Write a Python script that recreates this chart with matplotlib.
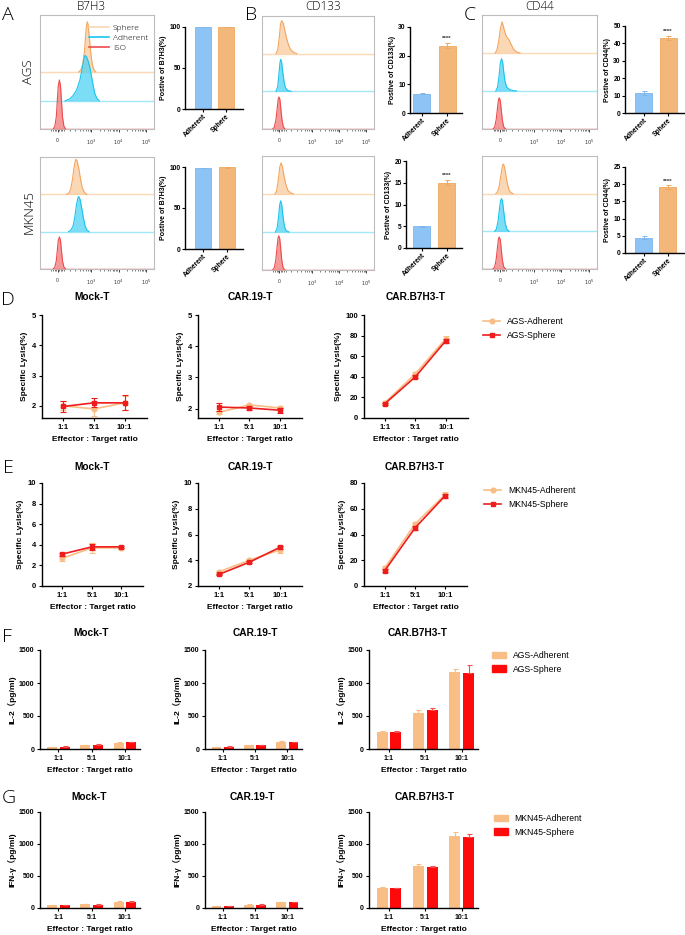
import numpy as np
import matplotlib
matplotlib.use('Agg')
import matplotlib.pyplot as plt
from matplotlib.lines import Line2D
from matplotlib.patches import Patch

plt.rcParams['font.family'] = ['Liberation Sans', 'DejaVu Sans', 'Noto Sans CJK SC']

# ------------------------------------------------------------------ data
groups = ['Adherent', 'Sphere']
ratios = ['1:1', '5:1', '10:1']
hist_ticklabels = ['0', '$10^3$', '$10^4$', '$10^5$']

# flow histograms: (x position on display axis 0-1, relative height)
AGS_B7H3_ISO = ([0.115, 0.13, 0.143, 0.152, 0.16, 0.17, 0.18, 0.188, 0.197, 0.21, 0.225],
                [0, 0.07, 0.32, 0.75, 1.13, 1.29, 1.13, 0.75, 0.32, 0.07, 0])
AGS_B7H3_ADH = ([0.22, 0.26, 0.29, 0.32, 0.35, 0.37, 0.385, 0.395, 0.41, 0.425, 0.44, 0.46, 0.48, 0.5, 0.52],
                [0, 0.05, 0.14, 0.28, 0.55, 0.85, 1.1, 1.2, 1.15, 1.02, 0.85, 0.5, 0.2, 0.06, 0])
AGS_B7H3_SPH = ([0.34, 0.36, 0.375, 0.39, 0.4, 0.408, 0.415, 0.422, 0.432, 0.445, 0.46, 0.475, 0.49],
                [0, 0.06, 0.2, 0.55, 0.95, 1.22, 1.32, 1.25, 0.95, 0.5, 0.18, 0.05, 0])
AGS_CD133_ISO = ([0.095, 0.11, 0.125, 0.137, 0.145, 0.152, 0.16, 0.168, 0.178, 0.19, 0.205],
                 [0, 0.05, 0.25, 0.58, 0.8, 0.85, 0.78, 0.55, 0.25, 0.06, 0])
AGS_CD133_ADH = ([0.125, 0.14, 0.15, 0.16, 0.167, 0.175, 0.185, 0.197, 0.21, 0.23, 0.26],
                 [0, 0.12, 0.42, 0.75, 0.85, 0.78, 0.52, 0.25, 0.09, 0.02, 0])
AGS_CD133_SPH = ([0.125, 0.14, 0.155, 0.165, 0.176, 0.19, 0.205, 0.22, 0.24, 0.26, 0.285, 0.31],
                 [0, 0.1, 0.45, 0.78, 0.88, 0.8, 0.6, 0.4, 0.2, 0.09, 0.03, 0])
AGS_CD44_ISO = ([0.095, 0.11, 0.123, 0.135, 0.143, 0.15, 0.158, 0.166, 0.176, 0.188, 0.205],
                [0, 0.05, 0.24, 0.56, 0.77, 0.82, 0.76, 0.55, 0.25, 0.06, 0])
AGS_CD44_ADH = ([0.12, 0.135, 0.148, 0.16, 0.17, 0.18, 0.19, 0.2, 0.215, 0.24, 0.27, 0.3],
                [0, 0.1, 0.38, 0.75, 0.85, 0.75, 0.48, 0.25, 0.1, 0.04, 0.01, 0])
AGS_CD44_SPH = ([0.115, 0.13, 0.145, 0.16, 0.175, 0.19, 0.205, 0.22, 0.235, 0.25, 0.27, 0.29, 0.31, 0.33],
                [0, 0.08, 0.3, 0.65, 0.82, 0.65, 0.48, 0.4, 0.35, 0.25, 0.12, 0.05, 0.015, 0])
MKN_B7H3_ISO = ([0.115, 0.13, 0.143, 0.152, 0.16, 0.17, 0.18, 0.188, 0.197, 0.21, 0.225],
                [0, 0.05, 0.22, 0.5, 0.76, 0.86, 0.76, 0.5, 0.22, 0.05, 0])
MKN_B7H3_ADH = ([0.25, 0.27, 0.29, 0.305, 0.32, 0.332, 0.34, 0.35, 0.365, 0.38, 0.395, 0.41, 0.43],
                [0, 0.04, 0.15, 0.38, 0.72, 0.9, 0.94, 0.88, 0.65, 0.38, 0.16, 0.05, 0])
MKN_B7H3_SPH = ([0.235, 0.255, 0.27, 0.285, 0.3, 0.31, 0.316, 0.325, 0.34, 0.355, 0.37, 0.39, 0.41],
                [0, 0.04, 0.15, 0.4, 0.75, 0.9, 0.94, 0.9, 0.7, 0.42, 0.18, 0.05, 0])
MKN_CD133_ISO = ([0.095, 0.11, 0.123, 0.135, 0.143, 0.15, 0.158, 0.166, 0.176, 0.188, 0.205],
                 [0, 0.06, 0.26, 0.62, 0.84, 0.9, 0.83, 0.6, 0.27, 0.06, 0])
MKN_CD133_ADH = ([0.12, 0.135, 0.148, 0.158, 0.167, 0.176, 0.187, 0.2, 0.215, 0.24],
                 [0, 0.1, 0.4, 0.72, 0.82, 0.72, 0.42, 0.15, 0.04, 0])
MKN_CD133_SPH = ([0.115, 0.13, 0.145, 0.158, 0.17, 0.182, 0.195, 0.21, 0.23, 0.255, 0.28],
                 [0, 0.07, 0.35, 0.7, 0.82, 0.72, 0.5, 0.28, 0.1, 0.03, 0])
MKN_CD44_ISO = ([0.095, 0.11, 0.123, 0.135, 0.143, 0.15, 0.158, 0.166, 0.176, 0.188, 0.205],
                [0, 0.05, 0.25, 0.58, 0.8, 0.85, 0.79, 0.57, 0.26, 0.06, 0])
MKN_CD44_ADH = ([0.11, 0.125, 0.14, 0.152, 0.162, 0.17, 0.178, 0.188, 0.2, 0.215, 0.235],
                [0, 0.06, 0.28, 0.6, 0.82, 0.87, 0.8, 0.55, 0.25, 0.06, 0])
MKN_CD44_SPH = ([0.12, 0.135, 0.15, 0.165, 0.177, 0.185, 0.195, 0.207, 0.22, 0.235, 0.25, 0.27],
                [0, 0.05, 0.2, 0.5, 0.73, 0.79, 0.72, 0.5, 0.27, 0.1, 0.03, 0])

# positive percentages
b7h3_ags, b7h3_ags_err = [99.6, 99.8], [0.2, 0.1]
b7h3_mkn, b7h3_mkn_err = [99.0, 99.5], [0.3, 0.2]
cd133_ags, cd133_ags_err = [6.7, 23.5], [0.2, 1.0]
cd133_mkn, cd133_mkn_err = [5.0, 15.0], [0.15, 0.6]
cd44_ags, cd44_ags_err = [11.5, 43.0], [1.2, 1.2]
cd44_mkn, cd44_mkn_err = [4.5, 19.2], [0.4, 0.5]

# specific lysis (%)
d_mock_adh, d_mock_adh_err = [2.0, 1.9, 2.1], [0.15, 0.25, 0.22]
d_mock_sph, d_mock_sph_err = [1.98, 2.1, 2.1], [0.18, 0.15, 0.25]
d_c19_adh, d_c19_adh_err = [1.88, 2.12, 2.02], [0.05, 0.04, 0.05]
d_c19_sph, d_c19_sph_err = [2.05, 2.02, 1.95], [0.12, 0.05, 0.08]
d_b7_adh, d_b7_adh_err = [15, 43, 77], [1.5, 2, 3]
d_b7_sph, d_b7_sph_err = [14, 40, 75], [1, 1.5, 2]
e_mock_adh, e_mock_adh_err = [2.7, 3.7, 3.7], [0.3, 0.5, 0.15]
e_mock_sph, e_mock_sph_err = [3.1, 3.8, 3.8], [0.15, 0.3, 0.1]
e_c19_adh, e_c19_adh_err = [3.1, 4.0, 4.8], [0.1, 0.1, 0.2]
e_c19_sph, e_c19_sph_err = [2.9, 3.85, 5.0], [0.05, 0.08, 0.1]
e_b7_adh, e_b7_adh_err = [14, 48, 71], [1.5, 2, 2]
e_b7_sph, e_b7_sph_err = [12, 45, 70], [1, 1.5, 1.5]

# cytokines (pg/ml)
f_mock_adh, f_mock_adh_err = [30, 60, 95], [5, 8, 8]
f_mock_sph, f_mock_sph_err = [35, 65, 105], [4, 6, 8]
f_c19_adh, f_c19_adh_err = [30, 55, 110], [4, 6, 8]
f_c19_sph, f_c19_sph_err = [35, 60, 105], [4, 6, 6]
f_b7_adh, f_b7_adh_err = [265, 540, 1160], [15, 45, 50]
f_b7_sph, f_b7_sph_err = [255, 595, 1150], [15, 25, 130]
g_mock_adh, g_mock_adh_err = [40, 55, 100], [5, 6, 8]
g_mock_sph, g_mock_sph_err = [40, 50, 95], [4, 5, 8]
g_c19_adh, g_c19_adh_err = [30, 50, 90], [4, 5, 6]
g_c19_sph, g_c19_sph_err = [35, 50, 90], [4, 5, 6]
g_b7_adh, g_b7_adh_err = [320, 655, 1130], [10, 25, 60]
g_b7_sph, g_b7_sph_err = [305, 635, 1105], [10, 25, 55]

# ------------------------------------------------------------------ helpers
W, H = 685, 935
fig = plt.figure(figsize=(W / 100, H / 100), dpi=100)


def px_axes(x0, y0, x1, y1):
    return fig.add_axes([x0 / W, 1 - y1 / H, (x1 - x0) / W, (y1 - y0) / H])


def ftext(x, y, s, **kw):
    kw.setdefault('ha', 'center')
    kw.setdefault('va', 'center')
    fig.text(x / W, 1 - y / H, s, **kw)


LIGHT = dict(family=['Open Sans', 'DejaVu Sans'], fontweight='light')

SPH_LINE, SPH_FILL, SPH_BASE = '#F4A55E', '#F9CB9C', '#FBD8B6'
ADH_LINE, ADH_FILL, ADH_BASE = '#19C3EE', '#4FD3F4', '#A3E8F8'
ISO_LINE, ISO_FILL = '#EE4B4B', '#F27878'

major_pos = [0.155, 0.45, 0.69, 0.93]
minor_pos = [0.10, 0.115, 0.13, 0.14, 0.17, 0.18, 0.195, 0.21, 0.26, 0.31, 0.35, 0.38, 0.40, 0.42, 0.435]
for d0 in (0.45, 0.69):
    for k in range(2, 10):
        minor_pos.append(d0 + np.log10(k) * 0.24)


def hist_panel(box, curves, baselines, legend=False):
    ax = px_axes(*box)
    ax.set_xlim(0, 1)
    ax.set_ylim(0, 3)
    cols = [(ISO_LINE, ISO_FILL, ISO_LINE), (ADH_LINE, ADH_FILL, ADH_BASE), (SPH_LINE, SPH_FILL, SPH_BASE)]
    order = [2, 1, 0]
    for i in order:
        (x, h), base = curves[i], baselines[i]
        lc, fc, bc = cols[i]
        ax.axhline(base, color=bc, lw=1.0, zorder=1)
        y = np.array(h) + base
        ax.fill_between(x, base, y, color=fc, alpha=0.75, lw=0, zorder=2 + (2 - i))
        ax.plot(x, y, color=lc, lw=0.8, zorder=3 + (2 - i))
    for s in ax.spines.values():
        s.set_color('#BDBDBD')
        s.set_linewidth(0.8)
    ax.set_yticks([])
    ax.set_xticks(major_pos)
    ax.set_xticklabels(hist_ticklabels, fontsize=3.6, color='#333333')
    ax.set_xticks(minor_pos, minor=True)
    ax.tick_params(axis='x', which='major', length=2.5, width=0.6, pad=4, color='#222222')
    ax.tick_params(axis='x', which='minor', length=1.5, width=0.5, color='#444444')
    if legend:
        handles = [Line2D([], [], color=SPH_BASE, lw=1.2), Line2D([], [], color=ADH_LINE, lw=1.2),
                   Line2D([], [], color=ISO_LINE, lw=1.2)]
        ax.legend(handles, ['Sphere', 'Adherent', 'ISO'], loc='upper right', frameon=False,
                  prop=dict(family=['Open Sans', 'DejaVu Sans'], size=6, weight='light'),
                  handlelength=2.4, handletextpad=0.5, labelspacing=0.25,
                  borderaxespad=0.3, bbox_to_anchor=(1.0, 0.97))
    return ax


BAR_ADH, BAR_ADH_E = '#8EC3F6', '#7DB6EE'
BAR_SPH, BAR_SPH_E = '#F4B77A', '#EFA862'


def prism_style(ax, fs=5.5):
    for s in ['top', 'right']:
        ax.spines[s].set_visible(False)
    for s in ['left', 'bottom']:
        ax.spines[s].set_linewidth(1.0)
    ax.tick_params(direction='out', length=2.5, width=0.8, labelsize=fs, pad=1.5)
    for lab in ax.get_xticklabels() + ax.get_yticklabels():
        lab.set_fontweight('bold')


def pos_bar(box, centers_px, width_px, vals, errs, ylim, yticks, ylabel, sig=None):
    ax = px_axes(*box)
    x0, y0, x1, y1 = box
    c0, c1 = centers_px
    unit = c1 - c0
    ax.set_xlim((x0 - c0) / unit, (x1 - c0) / unit)
    xs = np.arange(2)
    ax.bar(xs, vals, width=width_px / unit, color=[BAR_ADH, BAR_SPH],
           edgecolor=[BAR_ADH_E, BAR_SPH_E], lw=0.6)
    for i in range(2):
        ax.errorbar(xs[i], vals[i], yerr=errs[i], color=[BAR_ADH_E, BAR_SPH_E][i],
                    capsize=1.8, elinewidth=0.7, capthick=0.7, fmt='none')
    ax.set_ylim(*ylim)
    ax.set_yticks(yticks)
    ax.set_xticks(xs)
    ax.set_xticklabels(groups, rotation=45, ha='right', rotation_mode='anchor')
    ax.set_ylabel(ylabel, fontsize=5, fontweight='bold', labelpad=2)
    prism_style(ax, fs=4.8)
    ax.tick_params(length=2, pad=1)
    if sig:
        ax.text(1, vals[1] + errs[1] + (ylim[1] - ylim[0]) * 0.02, sig, ha='center', va='bottom',
                fontsize=4.5, fontweight='bold', color='#333333')
    return ax


C_ADH = '#F8BE86'
C_SPH = '#EE1C1C'


def line_panel(box, adh, adh_err, sph, sph_err, ylim, yticks, ylabel=True):
    ax = px_axes(*box)
    x = np.arange(3)
    ax.errorbar(x, adh, yerr=adh_err, color=C_ADH, marker='o', ms=3.4, lw=1.2,
                capsize=2, elinewidth=0.8, capthick=0.8, zorder=3)
    ax.errorbar(x, sph, yerr=sph_err, color=C_SPH, marker='s', ms=3.0, lw=1.2,
                capsize=2, elinewidth=0.8, capthick=0.8, zorder=4)
    ax.set_xlim(-0.69, 2.73)
    ax.set_ylim(*ylim)
    ax.set_yticks(yticks)
    ax.set_xticks(x)
    ax.set_xticklabels(ratios)
    ax.set_xlabel('Effector : Target ratio', fontsize=6, fontweight='bold', labelpad=4)
    ax.set_ylabel('Specific Lysis(%)', fontsize=6, fontweight='bold', labelpad=3)
    prism_style(ax)
    return ax


def cyto_panel(box, adh, adh_err, sph, sph_err, ylabel):
    ax = px_axes(*box)
    x = np.arange(3)
    w, off = 0.3, 0.19
    ax.bar(x - off, adh, width=w, color=C_ADH, lw=0)
    ax.bar(x + off, sph, width=w, color='#FF0A0A', lw=0)
    ax.errorbar(x - off, adh, yerr=[np.zeros(3), adh_err], fmt='none', ecolor=C_ADH,
                capsize=1.8, elinewidth=0.8, capthick=0.8)
    ax.errorbar(x + off, sph, yerr=[np.zeros(3), sph_err], fmt='none', ecolor='#F25050',
                capsize=1.8, elinewidth=0.8, capthick=0.8)
    ax.set_xlim(-0.55, 2.45)
    ax.set_ylim(0, 1500)
    ax.set_yticks([0, 500, 1000, 1500])
    ax.set_xticks(x)
    ax.set_xticklabels(ratios)
    ax.set_xlabel('Effector : Target ratio', fontsize=6, fontweight='bold', labelpad=4)
    ax.set_ylabel(ylabel, fontsize=6, fontweight='bold', labelpad=2)
    prism_style(ax, fs=5)
    return ax


# ------------------------------------------------------------------ top: flow
ftext(8, 15, 'A', fontsize=14, **LIGHT)
ftext(251, 15, 'B', fontsize=14, **LIGHT)
ftext(470, 15, 'C', fontsize=14, **LIGHT)
ftext(91, 7, 'B7H3', fontsize=8.5, **LIGHT)
ftext(323, 6, 'CD133', fontsize=8.5, **LIGHT)
ftext(540, 6, 'CD44', fontsize=8.5, **LIGHT)
ftext(29, 72, 'AGS', fontsize=9.5, rotation=90, **LIGHT)
ftext(29, 212, 'MKN45', fontsize=9.5, rotation=90, **LIGHT)

hist_panel((40, 15, 154, 129), [AGS_B7H3_ISO, AGS_B7H3_ADH, AGS_B7H3_SPH], [0, 0.74, 1.5], legend=True)
hist_panel((262, 16, 374, 129), [AGS_CD133_ISO, AGS_CD133_ADH, AGS_CD133_SPH], [0, 1, 2])
hist_panel((482, 15, 597, 129), [AGS_CD44_ISO, AGS_CD44_ADH, AGS_CD44_SPH], [0, 1, 2])
hist_panel((40, 157, 154, 269), [MKN_B7H3_ISO, MKN_B7H3_ADH, MKN_B7H3_SPH], [0, 1, 2])
hist_panel((262, 156, 374, 270), [MKN_CD133_ISO, MKN_CD133_ADH, MKN_CD133_SPH], [0, 1, 2])
hist_panel((482, 156, 597, 269), [MKN_CD44_ISO, MKN_CD44_ADH, MKN_CD44_SPH], [0, 1, 2])

pos_bar((185, 27, 243, 109), (203, 226), 16, b7h3_ags, b7h3_ags_err, (0, 100), [0, 50, 100], 'Postive of B7H3(%)')
pos_bar((185, 167, 243, 249), (203, 226.5), 16, b7h3_mkn, b7h3_mkn_err, (0, 100), [0, 50, 100], 'Postive of B7H3(%)')
pos_bar((410, 27, 462, 113), (421.5, 447), 17, cd133_ags, cd133_ags_err, (0, 30), [0, 10, 20, 30], 'Postive of CD133(%)', '****')
pos_bar((406, 161, 462, 248), (421.5, 446.5), 17, cd133_mkn, cd133_mkn_err, (0, 20), [0, 5, 10, 15, 20], 'Postive of CD133(%)', '****')
pos_bar((625, 26, 685, 113), (643.5, 668), 17, cd44_ags, cd44_ags_err, (0, 50), [0, 10, 20, 30, 40, 50], 'Postive of CD44(%)', '****')
pos_bar((625, 167, 685, 253), (643.5, 667.5), 17, cd44_mkn, cd44_mkn_err, (0, 25), [0, 5, 10, 15, 20, 25], 'Postive of CD44(%)', '****')

# ------------------------------------------------------------------ D / E: lysis
TITLE = dict(fontsize=7.3, fontweight='bold')
ftext(8, 300, 'D', fontsize=14, **LIGHT)
ftext(92, 297, 'Mock-T', **TITLE)
ftext(250, 297, 'CAR.19-T', **TITLE)
ftext(416, 297, 'CAR.B7H3-T', **TITLE)
line_panel((42, 315, 147, 418), d_mock_adh, d_mock_adh_err, d_mock_sph, d_mock_sph_err, (1.6, 5), [2, 3, 4, 5])
line_panel((198, 315, 302, 418), d_c19_adh, d_c19_adh_err, d_c19_sph, d_c19_sph_err, (1.7, 5), [2, 3, 4, 5])
axd = line_panel((364, 315, 468, 418), d_b7_adh, d_b7_adh_err, d_b7_sph, d_b7_sph_err, (0, 100), [0, 20, 40, 60, 80, 100])

ftext(8, 468, 'E', fontsize=14, **LIGHT)
ftext(92, 467, 'Mock-T', **TITLE)
ftext(250, 467, 'CAR.19-T', **TITLE)
ftext(415, 467, 'CAR.B7H3-T', **TITLE)
line_panel((42, 483, 143, 586), e_mock_adh, e_mock_adh_err, e_mock_sph, e_mock_sph_err, (0, 10), [0, 2, 4, 6, 8, 10])
line_panel((198, 483, 302, 586), e_c19_adh, e_c19_adh_err, e_c19_sph, e_c19_sph_err, (2, 10), [2, 4, 6, 8, 10])
axe = line_panel((364, 483, 467, 586), e_b7_adh, e_b7_adh_err, e_b7_sph, e_b7_sph_err, (0, 80), [0, 20, 40, 60, 80])


def line_legend(labels, x, y):
    hs = [Line2D([], [], color=C_ADH, marker='o', ms=3.4, lw=1.2),
          Line2D([], [], color=C_SPH, marker='s', ms=3.0, lw=1.2)]
    fig.legend(hs, labels, loc='upper left', bbox_to_anchor=(x / W, 1 - y / H), frameon=False,
               fontsize=6.2, handlelength=2.0, handletextpad=0.8, labelspacing=0.55,
               borderpad=0, borderaxespad=0)


line_legend(['AGS-Adherent', 'AGS-Sphere'], 483, 317)
line_legend(['MKN45-Adherent', 'MKN45-Sphere'], 484, 486)

# ------------------------------------------------------------------ F / G: cytokines
ftext(7, 637, 'F', fontsize=14, **LIGHT)
ftext(91, 633, 'Mock-T', **TITLE)
ftext(255, 633, 'CAR.19-T', **TITLE)
ftext(418, 633, 'CAR.B7H3-T', **TITLE)
cyto_panel((40, 650, 140, 749), f_mock_adh, f_mock_adh_err, f_mock_sph, f_mock_sph_err, 'IL-2（pg/ml)')
cyto_panel((205, 650, 302, 749), f_c19_adh, f_c19_adh_err, f_c19_sph, f_c19_sph_err, 'IL-2（pg/ml)')
cyto_panel((369, 650, 478, 749), f_b7_adh, f_b7_adh_err, f_b7_sph, f_b7_sph_err, 'IL-2（pg/ml)')

ftext(9, 798, 'G', fontsize=14, **LIGHT)
ftext(89, 797, 'Mock-T', **TITLE)
ftext(252, 797, 'CAR.19-T', **TITLE)
ftext(425, 797, 'CAR.B7H3-T', **TITLE)
cyto_panel((40, 812, 140, 908), g_mock_adh, g_mock_adh_err, g_mock_sph, g_mock_sph_err, 'IFN-γ（pg/ml)')
cyto_panel((205, 812, 302, 908), g_c19_adh, g_c19_adh_err, g_c19_sph, g_c19_sph_err, 'IFN-γ（pg/ml)')
cyto_panel((369, 812, 478, 908), g_b7_adh, g_b7_adh_err, g_b7_sph, g_b7_sph_err, 'IFN-γ（pg/ml)')


def bar_legend(labels, x, y):
    hs = [Patch(color=C_ADH), Patch(color='#FF0A0A')]
    fig.legend(hs, labels, loc='upper left', bbox_to_anchor=(x / W, 1 - y / H), frameon=False,
               fontsize=6.2, handlelength=1.6, handleheight=0.8, handletextpad=0.8,
               labelspacing=0.55, borderpad=0, borderaxespad=0)


bar_legend(['AGS-Adherent', 'AGS-Sphere'], 492, 651)
bar_legend(['MKN45-Adherent', 'MKN45-Sphere'], 494, 814)

fig.savefig('out.png', dpi=100)
